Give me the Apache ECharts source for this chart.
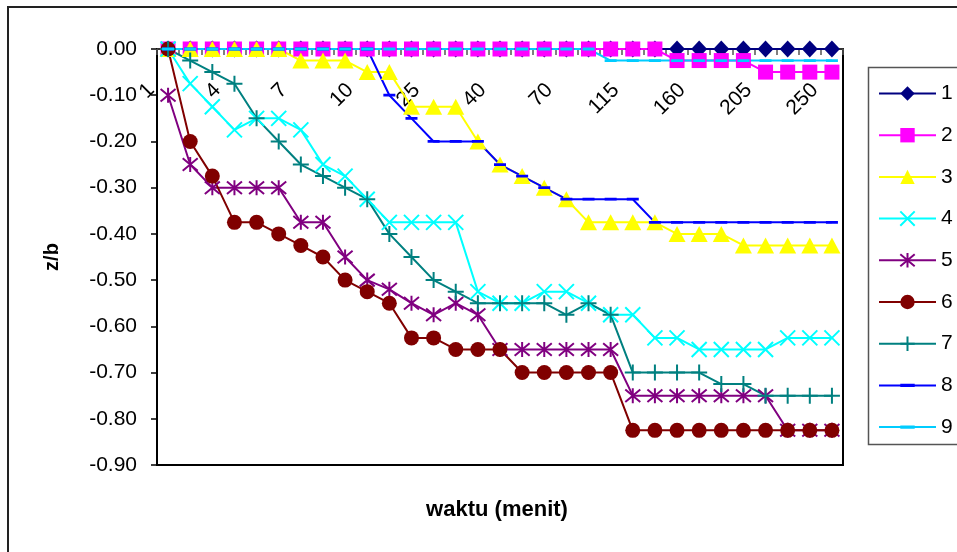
<!DOCTYPE html>
<html>
<head>
<meta charset="utf-8">
<script src="https://cdn.jsdelivr.net/npm/echarts@6/dist/echarts.min.js"></script>
<style>
  html, body { margin: 0; padding: 0; background: #fff; }
  #chart { width: 957px; height: 552px; }
</style>
</head>
<body>
<div id="chart"></div>
<script>
// Time steps (minutes)
const waktu = [1, 2, 3, 4, 5, 6, 7, 8, 9, 10, 15, 20, 25, 30, 35, 40, 50, 60, 70, 85,
  100, 115, 130, 145, 160, 175, 190, 205, 220, 235, 250];

// Scour depth ratio z/b for each measurement point
const s1 = [0, 0, 0, 0, 0, 0, 0, 0, 0, 0, 0, 0, 0, 0, 0, 0, 0, 0, 0, 0,
  0, 0, 0, 0, 0, 0, 0, 0, 0, 0, 0];
const s2 = [0, 0, 0, 0, 0, 0, 0, 0, 0, 0, 0, 0, 0, 0, 0, 0, 0, 0, 0, 0,
  0, 0, 0, -0.025, -0.025, -0.025, -0.025, -0.05, -0.05, -0.05, -0.05];
const s3 = [0, 0, 0, 0, 0, 0, -0.025, -0.025, -0.025, -0.05, -0.05, -0.125, -0.125, -0.125, -0.2, -0.25, -0.275, -0.3, -0.325, -0.375,
  -0.375, -0.375, -0.375, -0.4, -0.4, -0.4, -0.425, -0.425, -0.425, -0.425, -0.425];
const s4 = [0, -0.075, -0.125, -0.175, -0.15, -0.15, -0.175, -0.25, -0.275, -0.325, -0.375, -0.375, -0.375, -0.375, -0.525, -0.55, -0.55, -0.525, -0.525, -0.55,
  -0.575, -0.575, -0.625, -0.625, -0.65, -0.65, -0.65, -0.65, -0.625, -0.625, -0.625];
const s5 = [-0.1, -0.25, -0.3, -0.3, -0.3, -0.3, -0.375, -0.375, -0.45, -0.5, -0.52, -0.55, -0.575, -0.55, -0.575, -0.65, -0.65, -0.65, -0.65, -0.65,
  -0.65, -0.75, -0.75, -0.75, -0.75, -0.75, -0.75, -0.75, -0.825, -0.825, -0.825];
const s6 = [0, -0.2, -0.275, -0.375, -0.375, -0.4, -0.425, -0.45, -0.5, -0.525, -0.55, -0.625, -0.625, -0.65, -0.65, -0.65, -0.7, -0.7, -0.7, -0.7,
  -0.7, -0.825, -0.825, -0.825, -0.825, -0.825, -0.825, -0.825, -0.825, -0.825, -0.825];
const s7 = [0, -0.025, -0.05, -0.075, -0.15, -0.2, -0.25, -0.275, -0.3, -0.325, -0.4, -0.45, -0.5, -0.525, -0.55, -0.55, -0.55, -0.55, -0.575, -0.55,
  -0.575, -0.7, -0.7, -0.7, -0.7, -0.725, -0.725, -0.75, -0.75, -0.75, -0.75];
const s8 = [0, 0, 0, 0, 0, 0, 0, 0, 0, 0, -0.1, -0.15, -0.2, -0.2, -0.2, -0.25, -0.275, -0.3, -0.325, -0.325,
  -0.325, -0.325, -0.375, -0.375, -0.375, -0.375, -0.375, -0.375, -0.375, -0.375, -0.375];
const s9 = [0, 0, 0, 0, 0, 0, 0, 0, 0, 0, 0, 0, 0, 0, 0, 0, 0, 0, 0, 0,
  -0.025, -0.025, -0.025, -0.025, -0.025, -0.025, -0.025, -0.025, -0.025, -0.025, -0.025];

const seriesNames = ['1', '2', '3', '4', '5', '6', '7', '8', '9'];
const yTicks = { min: -0.9, max: 0, step: 0.1 };

// Marker shapes
const crossX = 'path://M0,0L10,10M10,0L0,10';
const star = 'path://M0,0L10,10M10,0L0,10M5,-1L5,11';
const plus = 'path://M5,0L5,10M0,5L10,5';
const dash = 'path://M0,0L0.01,0L0,0.01Z M0,4.6L12,4.6L12,7.4L0,7.4Z M12,12L11.99,12L12,11.99Z';

const FONT = 'Liberation Sans, Arial, sans-serif';

function mk(name, data, color, symbol, size, stroked) {
  return {
    name: name,
    type: 'line',
    data: data,
    symbol: symbol,
    symbolSize: size,
    showSymbol: true,
    showAllSymbol: true,
    animation: false,
    lineStyle: { color: color, width: 2 },
    itemStyle: stroked
      ? { color: color, borderColor: color, borderWidth: 2 }
      : { color: color, borderWidth: 0 },
    emphasis: { disabled: true }
  };
}

const chart = echarts.init(document.getElementById('chart'), null, { renderer: 'canvas' });

chart.setOption({
  backgroundColor: '#fff',
  animation: false,
  grid: {
    left: 157, right: 114, top: 49, bottom: 87,
    show: true, borderColor: '#000', borderWidth: 2, backgroundColor: 'transparent'
  },
  xAxis: {
    type: 'category',
    data: waktu,
    // category axis sits on z/b = 0, i.e. the top edge; labels hang below it
    position: 'top',
    boundaryGap: true,
    axisLine: { onZero: false, lineStyle: { color: '#333', width: 2 } },
    axisTick: { show: true, inside: true, length: 6, interval: 0, lineStyle: { color: '#555', width: 1.5 } },
    axisLabel: {
      inside: true, rotate: -45, interval: 2, margin: 21,
      align: 'right', verticalAlign: 'middle',
      padding: [0, 24, 0, 0],
      fontFamily: FONT, fontSize: 21, color: '#000'
    },
    splitLine: { show: false }
  },
  yAxis: {
    type: 'value',
    min: yTicks.min, max: yTicks.max, interval: yTicks.step,
    name: 'z/b', nameLocation: 'middle', nameRotate: 90, nameGap: 95,
    nameTextStyle: { fontFamily: FONT, fontSize: 20, fontWeight: 'bold', color: '#000' },
    axisLine: { show: true, lineStyle: { color: '#000', width: 2 } },
    axisTick: { show: true, length: 6, lineStyle: { color: '#000', width: 1.5 } },
    axisLabel: {
      margin: 20, fontFamily: FONT, fontSize: 21, color: '#000',
      formatter: v => v.toFixed(2)
    },
    splitLine: { show: false }
  },
  legend: {
    data: seriesNames,
    orient: 'vertical',
    left: 878, top: 83, padding: 0,
    itemWidth: 57, itemHeight: 18, itemGap: 20.7,
    selectedMode: false,
    textStyle: { fontFamily: FONT, fontSize: 21, color: '#000' }
  },
  graphic: [
    { type: 'rect', shape: { x: 8, y: 7, width: 1000, height: 1000 },
      style: { fill: 'none', stroke: '#222', lineWidth: 2 }, silent: true, z: -10 },
    { type: 'rect', shape: { x: 868.5, y: 67.5, width: 200, height: 377 },
      style: { fill: 'none', stroke: '#555', lineWidth: 1.5 }, silent: true, z: -10 },
    { type: 'text', x: 497, y: 510,
      style: { text: 'waktu (menit)', fontFamily: FONT, fontSize: 22, fontWeight: 'bold', fill: '#000',
        align: 'center', verticalAlign: 'middle' } }
  ],
  series: [
    mk('1', s1, '#000080', 'diamond', [16, 17], false),
    mk('2', s2, '#FF00FF', 'rect', 15, false),
    mk('3', s3, '#FFFF00', 'triangle', [17, 16], false),
    mk('4', s4, '#00FFFF', crossX, 15, true),
    mk('5', s5, '#800080', star, 15, true),
    mk('6', s6, '#800000', 'circle', 15, false),
    mk('7', s7, '#008080', plus, 16, true),
    mk('8', s8, '#0000FF', dash, 12, false),
    mk('9', s9, '#00CCFF', dash, 12, false)
  ]
});
</script>
</body>
</html>
